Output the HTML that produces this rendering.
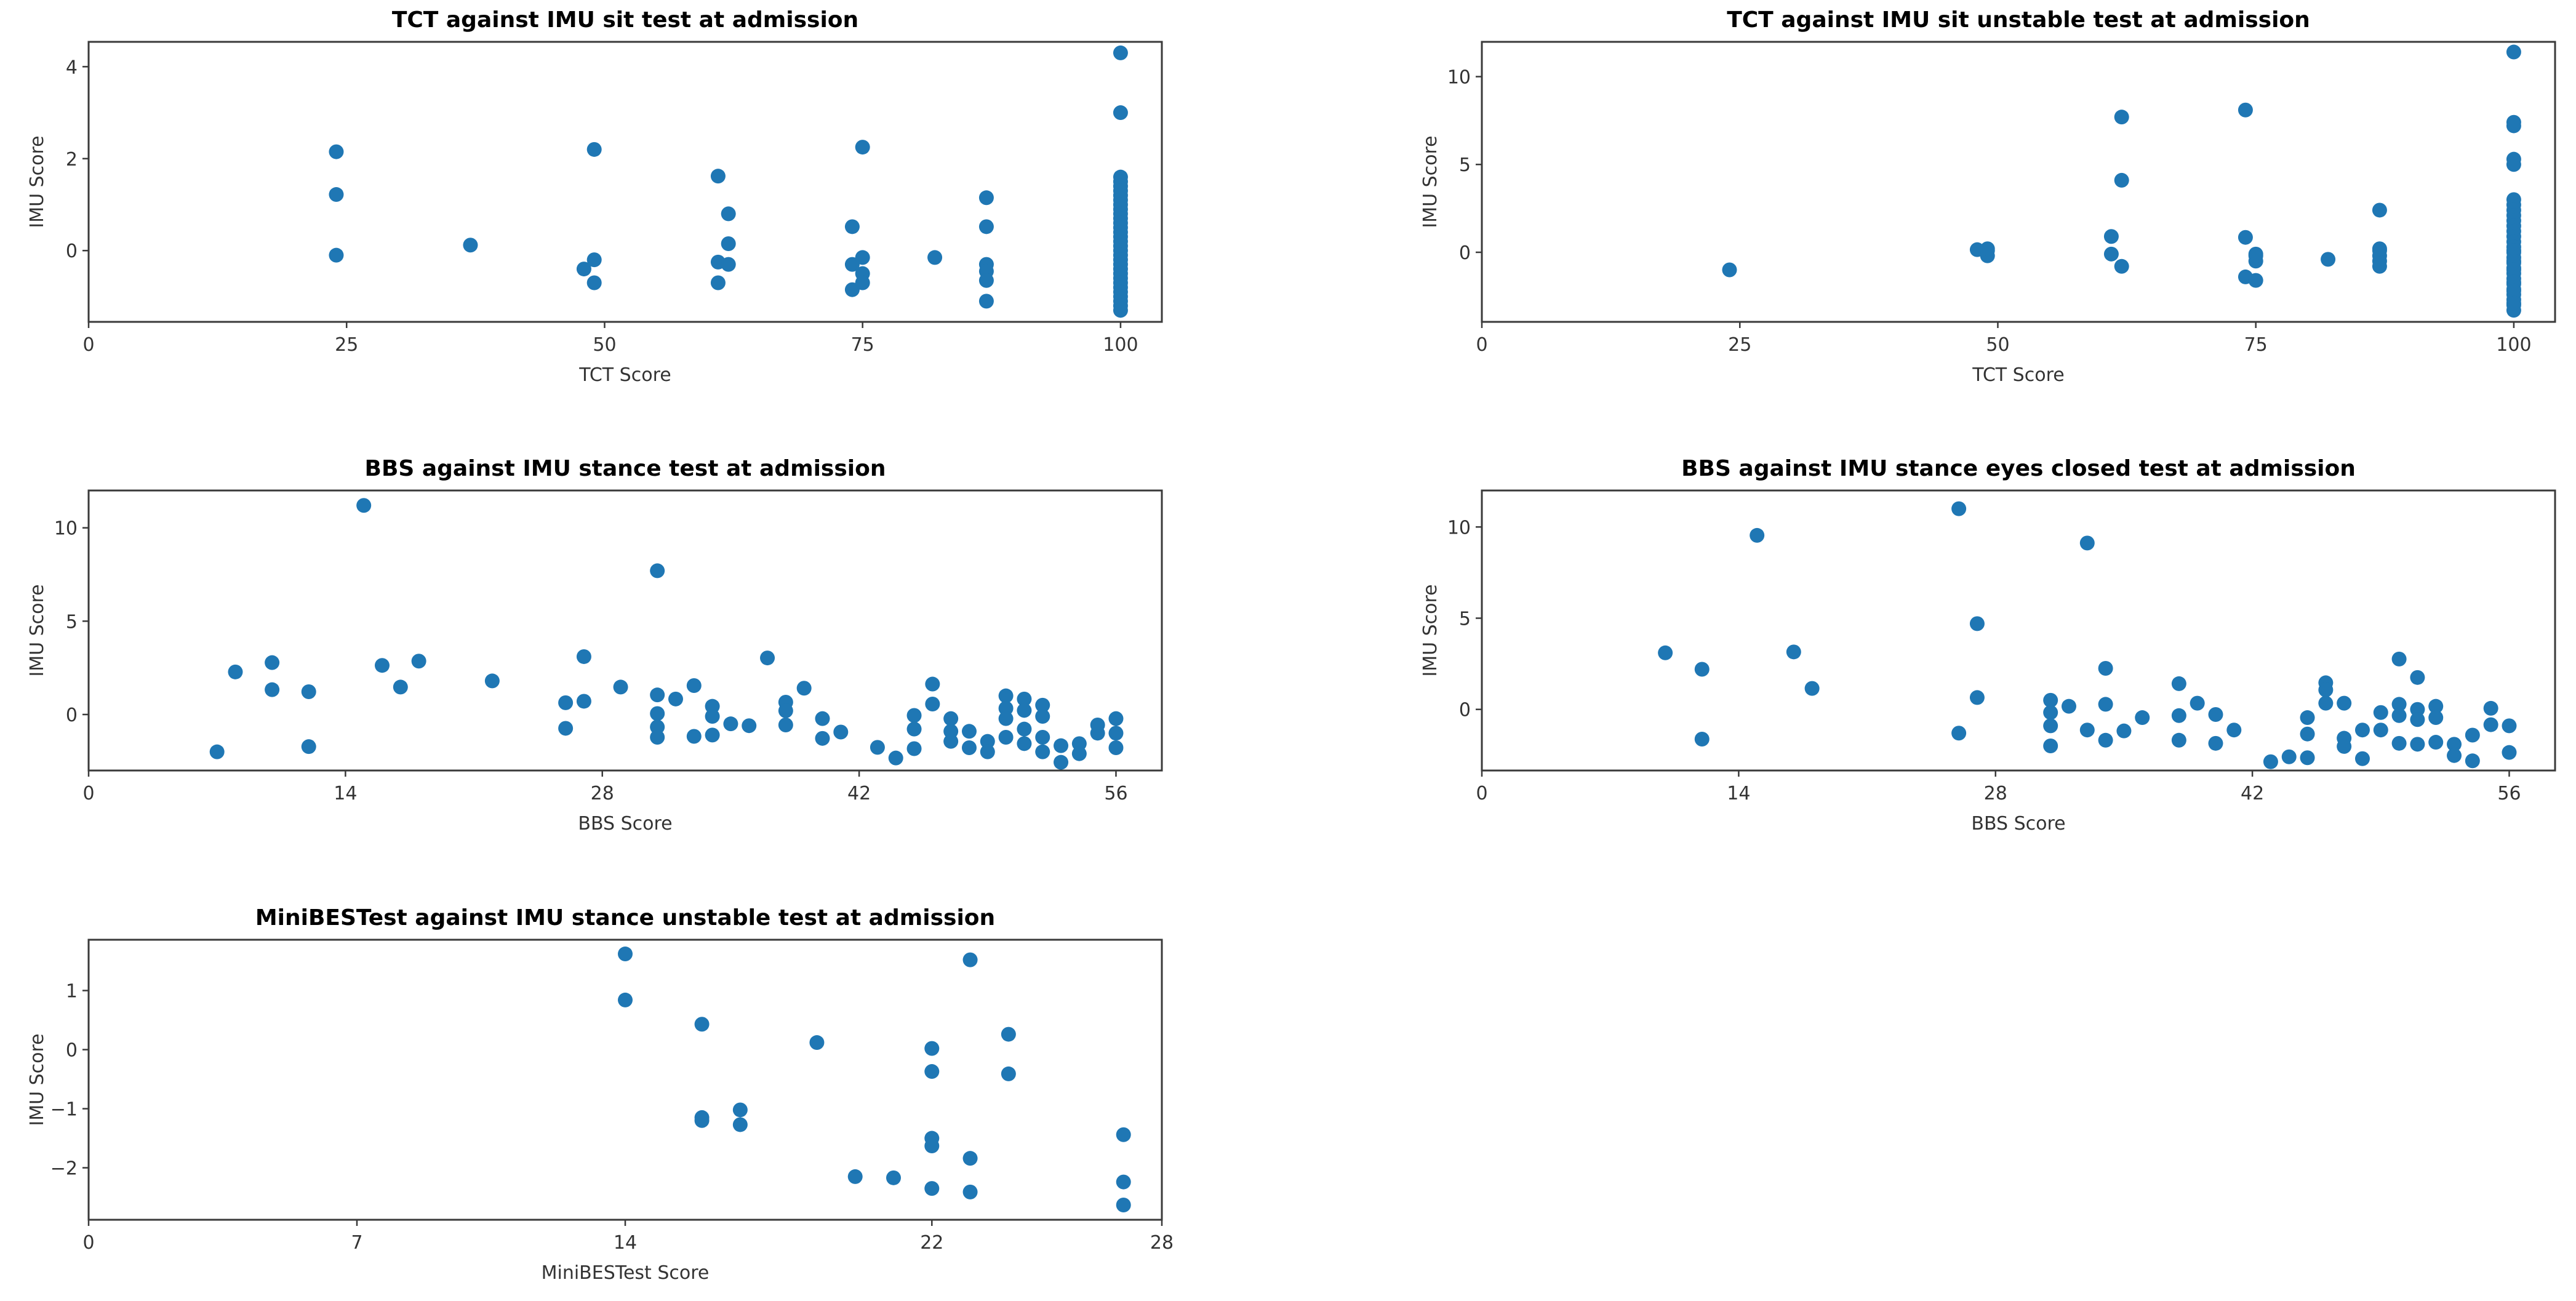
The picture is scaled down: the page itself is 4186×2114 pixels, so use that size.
<!DOCTYPE html>
<html><head><meta charset="utf-8"><style>
html,body{margin:0;padding:0;background:#fff;}
svg{display:block;font-family:"DejaVu Sans","Liberation Sans",sans-serif;}
</style></head><body>
<svg id="fig" width="4186" height="2114" viewBox="0 0 4186 2114" xmlns="http://www.w3.org/2000/svg"></svg>
<script>
// ---- Panel 1: TCT vs IMU sit
const p1X = [24,24,24,37,48,49,49,49,61,61,61,62,62,62,74,74,74,75,75,75,75,82,87,87,87,87,87,87,
  100,100,100,100,100,100,100,100,100,100,100,100,100,100,100,100,100,100,100,100,100,100,100,100,100,100,100,100,100,100,100,100];
const p1Y = [2.15,1.22,-0.1,0.12,-0.4,2.2,-0.2,-0.7,1.62,-0.25,-0.7,0.8,0.15,-0.3,0.52,-0.3,-0.85,2.25,-0.15,-0.5,-0.7,-0.15,1.15,0.52,-0.3,-0.45,-0.65,-1.1,
  4.3,3.0,1.6,1.5,1.4,1.3,1.2,1.1,1.0,0.9,0.8,0.7,0.6,0.5,0.4,0.3,0.2,0.1,0,-0.1,-0.2,-0.3,-0.4,-0.5,-0.6,-0.7,-0.8,-0.9,-1.0,-1.1,-1.2,-1.3];
const p1XTicks = [0,25,50,75,100];
const p1YTicks = [0,2,4];
// ---- Panel 2: TCT vs IMU sit unstable
const p2X = [24,48,49,49,49,61,61,62,62,62,74,74,74,75,75,75,75,82,87,87,87,87,87,87,
  100,100,100,100,100,100,100,100,100,100,100,100,100,100,100,100,100,100,100,100,100,100,100,100,100,100,100,100,100,100,100,100,100];
const p2Y = [-1.0,0.15,0.1,-0.2,0.2,0.9,-0.1,7.7,4.1,-0.8,8.1,0.85,-1.4,-0.1,-0.5,-1.6,-0.2,-0.4,2.4,0.1,-0.2,-0.5,-0.8,0.2,
  11.4,7.4,7.2,5.3,5.0,3.0,2.7,2.4,2.1,1.8,1.5,1.2,0.9,0.6,0.3,0,-0.3,-0.6,-0.9,-1.2,-1.5,-1.8,-2.1,-2.4,-2.7,-3.0,-3.3,0.1,-0.5,-1.0,-1.7,-2.2,-2.9];
const p2XTicks = [0,25,50,75,100];
const p2YTicks = [0,5,10];
// ---- Panel 3: BBS vs IMU stance
const p3X = [7,8,10,10,12,12,15,16,17,18,22,26,26,27,27,29,31,31,31,31,31,32,33,33,34,34,34,35,36,37,38,38,38,39,40,40,41,43,44,45,45,45,46,46,47,47,47,48,48,49,49,50,50,50,50,51,51,51,51,52,52,52,52,53,53,54,54,55,55,56,56,56];
const p3Y = [-2.0,2.28,2.78,1.33,1.22,-1.72,11.2,2.63,1.47,2.86,1.8,0.63,-0.74,3.1,0.71,1.47,7.7,1.05,0.05,-0.67,-1.22,0.83,1.55,-1.17,0.44,-0.1,-1.1,-0.5,-0.6,3.03,0.66,0.2,-0.56,1.41,-0.22,-1.28,-0.94,-1.76,-2.33,-0.05,-0.78,-1.83,1.63,0.56,-0.22,-0.9,-1.44,-0.9,-1.78,-1.44,-2.0,1.0,0.33,-0.22,-1.22,0.83,0.22,-0.78,-1.56,0.5,-0.1,-1.22,-2.0,-1.67,-2.56,-1.56,-2.1,-0.56,-1.0,-0.22,-1.0,-1.78];
const p3XTicks = [0,14,28,42,56];
const p3YTicks = [0,5,10];
// ---- Panel 4: BBS vs IMU stance eyes closed
const p4X = [10,12,12,15,17,18,26,26,27,27,31,31,31,31,32,33,33,34,34,34,35,36,38,38,38,39,40,40,41,43,44,45,45,45,46,46,46,47,47,47,48,48,49,49,50,50,50,50,51,51,51,51,52,52,52,53,53,54,54,55,55,56,56];
const p4Y = [3.1,2.2,-1.63,9.54,3.15,1.15,11.0,-1.3,4.7,0.65,0.5,-0.17,-0.9,-2.0,0.17,9.12,-1.13,2.25,0.28,-1.69,-1.18,-0.45,1.41,-0.34,-1.69,0.34,-0.28,-1.86,-1.13,-2.87,-2.6,-0.45,-1.35,-2.65,1.46,1.07,0.34,0.34,-1.58,-2.03,-1.13,-2.7,-0.17,-1.13,2.76,0.28,-0.34,-1.86,1.75,0,-0.56,-1.91,0.17,-0.45,-1.8,-1.91,-2.53,-1.41,-2.82,0.06,-0.84,-0.9,-2.36];
const p4XTicks = [0,14,28,42,56];
const p4YTicks = [0,5,10];
// ---- Panel 5: MiniBESTest vs IMU stance unstable
const p5X = [14,14,16,16,16,17,17,19,20,21,22,22,22,22,22,23,23,23,24,24,27,27,27];
const p5Y = [1.62,0.84,0.43,-1.15,-1.2,-1.02,-1.27,0.12,-2.15,-2.17,0.02,-0.37,-1.5,-1.63,-2.35,1.52,-1.84,-2.41,0.26,-0.41,-1.44,-2.24,-2.63];
const p5XTicks = [0,7,14,22,28];
const p5YTicks = [-2,-1,0,1];

const NS = "http://www.w3.org/2000/svg";
const svg = document.getElementById('fig');
function mk(tag, attrs, parent){
  const e = document.createElementNS(NS, tag);
  for (const k in attrs) e.setAttribute(k, attrs[k]);
  (parent||svg).appendChild(e);
  return e;
}
const panels = [
  {key:'tct-sit', title:'TCT against IMU sit test at admission', xl:'TCT Score', x0:144, y0:68, xs:p1X, ys:p1Y, xt:p1XTicks, yt:p1YTicks, xmin:0, xmax:104, ymin:-1.55, ymax:4.54},
  {key:'tct-sit-unstable', title:'TCT against IMU sit unstable test at admission', xl:'TCT Score', x0:2408, y0:68, xs:p2X, ys:p2Y, xt:p2XTicks, yt:p2YTicks, xmin:0, xmax:104, ymin:-3.96, ymax:11.98},
  {key:'bbs-stance', title:'BBS against IMU stance test at admission', xl:'BBS Score', x0:144, y0:797, xs:p3X, ys:p3Y, xt:p3XTicks, yt:p3YTicks, xmin:0, xmax:58.5, ymin:-3.0, ymax:12.0},
  {key:'bbs-eyes-closed', title:'BBS against IMU stance eyes closed test at admission', xl:'BBS Score', x0:2408, y0:797, xs:p4X, ys:p4Y, xt:p4XTicks, yt:p4YTicks, xmin:0, xmax:58.5, ymin:-3.35, ymax:12.0},
  {key:'minibest-unstable', title:'MiniBESTest against IMU stance unstable test at admission', xl:'MiniBESTest Score', x0:144, y0:1527, xs:p5X, ys:p5Y, xt:p5XTicks, yt:p5YTicks, xmin:0, xmax:28, ymin:-2.88, ymax:1.86}
];
const W = 1744, H = 455;
panels.forEach(p => {
  const g = mk('g', {});
  
  
  const sx = v => p.x0 + (v - p.xmin) / (p.xmax - p.xmin) * W;
  const sy = v => p.y0 + H - (v - p.ymin) / (p.ymax - p.ymin) * H;
  // points
  for (let i = 0; i < p.xs.length; i++) {
    const c = mk('circle', {cx:sx(p.xs[i]), cy:sy(p.ys[i]), r:12, fill:'#1f77b4'}, g);
    
    
  }
  // frame
  const fr = mk('rect', {x:p.x0, y:p.y0, width:W, height:H, fill:'none', stroke:'#3a3a3a', 'stroke-width':3}, g);
  
  
  p.xt.forEach(t => {
    const x = sx(t);
    mk('line', {x1:x, x2:x, y1:p.y0+H, y2:p.y0+H+10, stroke:'#3a3a3a', 'stroke-width':2.5}, g);
    const tx = mk('text', {x:x, y:p.y0+H+47, 'font-size':30, fill:'#333', 'text-anchor':'middle'}, g);
    tx.textContent = t;
    
    
  });
  p.yt.forEach(t => {
    const y = sy(t);
    mk('line', {x1:p.x0-10, x2:p.x0, y1:y, y2:y, stroke:'#3a3a3a', 'stroke-width':2.5}, g);
    const ty = mk('text', {x:p.x0-18, y:y+11, 'font-size':30, fill:'#333', 'text-anchor':'end'}, g);
    ty.textContent = t < 0 ? '\u2212' + Math.abs(t) : t;
    
    
  });
  const ti = mk('text', {x:p.x0+W/2, y:p.y0-24, 'font-size':36, 'font-weight':'bold', fill:'#000', 'text-anchor':'middle'}, g);
  ti.textContent = p.title;
  
  
  const xl = mk('text', {x:p.x0+W/2, y:p.y0+H+96, 'font-size':30, fill:'#333', 'text-anchor':'middle'}, g);
  xl.textContent = p.xl;
  
  
  const yx = p.x0 - 74, yy = p.y0 + H/2;
  const yl = mk('text', {x:yx, y:yy, 'font-size':30, fill:'#333', 'text-anchor':'middle', transform:'rotate(-90 '+yx+' '+yy+')'}, g);
  yl.textContent = 'IMU Score';
  
  
});
</script>
</body></html>
